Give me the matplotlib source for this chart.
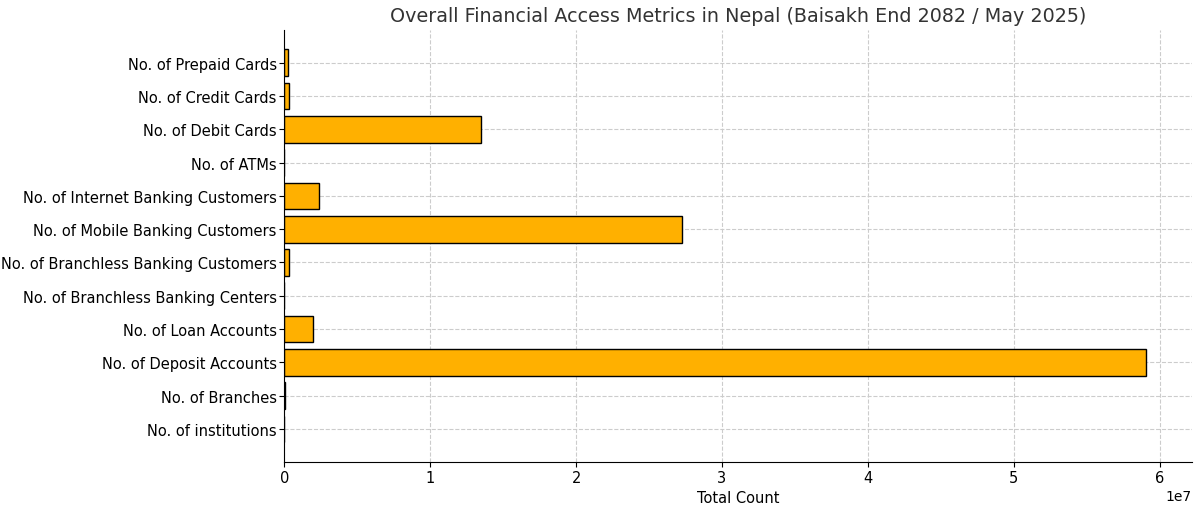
import matplotlib.pyplot as plt

metrics = ['No. of institutions', 'No. of Branches', 'No. of Deposit Accounts',
           'No. of Loan Accounts', 'No. of Branchless Banking Centers',
           'No. of Branchless Banking Customers', 'No. of Mobile Banking Customers',
           'No. of Internet Banking Customers', 'No. of ATMs', 'No. of Debit Cards',
           'No. of Credit Cards', 'No. of Prepaid Cards']
counts = [110, 11500, 59050000, 1950000, 1900, 300000, 27250000,
          2400000, 5200, 13500000, 290000, 250000]

fig, ax = plt.subplots(figsize=(12, 5.1), dpi=100)
ax.barh(metrics, counts, color='#FFB000', edgecolor='black', height=0.8, linewidth=1)
ax.set_xlim(0, 6.22e7)
ax.set_xlabel('Total Count', fontsize=10.5)
ax.set_title('Overall Financial Access Metrics in Nepal (Baisakh End 2082 / May 2025)', fontsize=13.8, color='#333333')
ax.tick_params(labelsize=10.5, pad=2)
ax.grid(True, linestyle='--', color='#cccccc', linewidth=0.8)
ax.set_axisbelow(True)
for s in ['top', 'right']:
    ax.spines[s].set_visible(False)
plt.subplots_adjust(left=0.237, right=0.993, top=0.94, bottom=0.092)
plt.savefig('out.png')
